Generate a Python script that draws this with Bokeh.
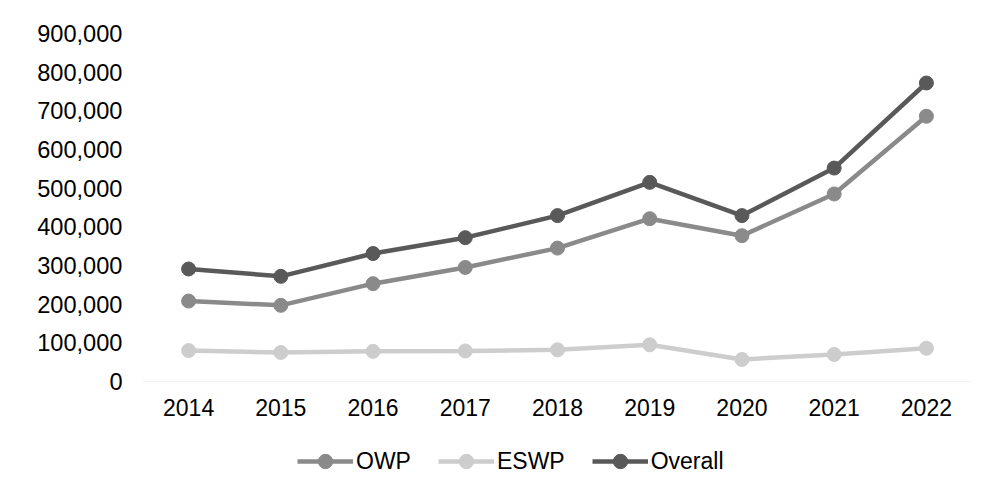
from bokeh.plotting import figure
from bokeh.layouts import column
from bokeh.models import (FixedTicker, NumeralTickFormatter, Span, Legend, LegendItem, Range1d, FactorRange)
from bokeh.embed import file_html
from bokeh.resources import INLINE

years = ["2014", "2015", "2016", "2017", "2018", "2019", "2020", "2021", "2022"]
owp = [208000, 197000, 253000, 295000, 345000, 421000, 377000, 485000, 686000]
eswp = [80000, 75000, 78000, 79000, 82000, 95000, 57000, 70000, 86000]
overall = [291000, 272000, 331000, 372000, 429000, 515000, 429000, 552000, 772000]
y_ticks = [0, 100000, 200000, 300000, 400000, 500000, 600000, 700000, 800000, 900000]

FONT = "Liberation Sans"
FS = "23px"

p = figure(width=996, height=435, x_range=FactorRange(*years), y_range=Range1d(0, 900000),
           output_backend="svg", toolbar_location=None,
           min_border_left=142, min_border_right=24, min_border_top=33, min_border_bottom=54)
p.outline_line_color = None
p.xgrid.grid_line_color = None
p.ygrid.grid_line_color = None

zero = Span(location=0, dimension="width", line_color="#d0d0d0", line_width=1, line_dash="1 1")
p.add_layout(zero)

series = [("OWP", owp, "#8a8a8a"), ("ESWP", eswp, "#cdcdcd"), ("Overall", overall, "#595959")]
for name, vals, col in series:
    p.line(years, vals, line_color=col, line_width=4.5)
    p.scatter(years, vals, size=14, fill_color=col, line_color=col)

for ax in (p.xaxis[0], p.yaxis[0]):
    ax.axis_line_color = None
    ax.major_tick_line_color = None
    ax.minor_tick_line_color = None
    ax.major_tick_out = 0
    ax.major_tick_in = 0
    ax.major_label_text_font = FONT
    ax.major_label_text_font_size = FS
    ax.major_label_text_color = "#000000"

p.yaxis[0].major_label_text_font_size = "23.6px"
p.yaxis[0].ticker = FixedTicker(ticks=y_ticks)
p.yaxis[0].formatter = NumeralTickFormatter(format="0,0")
p.yaxis[0].major_label_standoff = 20
p.xaxis[0].major_label_standoff = 17

# legend strip (its frame is aligned with the chart frame by the column layout)
lg = figure(width=996, height=58, x_range=Range1d(0, 1), y_range=Range1d(0, 1),
            output_backend="svg", toolbar_location=None,
            x_axis_location=None, y_axis_location=None,
            min_border_left=0, min_border_right=0, min_border_top=0, min_border_bottom=0)
lg.outline_line_color = None
lg.xgrid.grid_line_color = None
lg.ygrid.grid_line_color = None
items = []
idx = list(range(len(years)))
for name, vals, col in series:
    # series values lie far outside this strip's 0..1 range, so only the legend glyphs show
    r1 = lg.line(idx, vals, line_color=col, line_width=4.5)
    r2 = lg.scatter(idx, vals, size=14, fill_color=col, line_color=col)
    items.append(LegendItem(label=name, renderers=[r1, r2]))

legend = Legend(items=items, orientation="horizontal", location=(155, 14),
                label_text_font=FONT, label_text_font_size=FS, label_text_color="#000000",
                glyph_width=56, glyph_height=36, label_standoff=3, spacing=27,
                border_line_color=None, background_fill_alpha=0, padding=0, margin=0)
lg.add_layout(legend)

layout = column(p, lg, spacing=0)
open("out.html", "w").write(file_html(layout, INLINE))
